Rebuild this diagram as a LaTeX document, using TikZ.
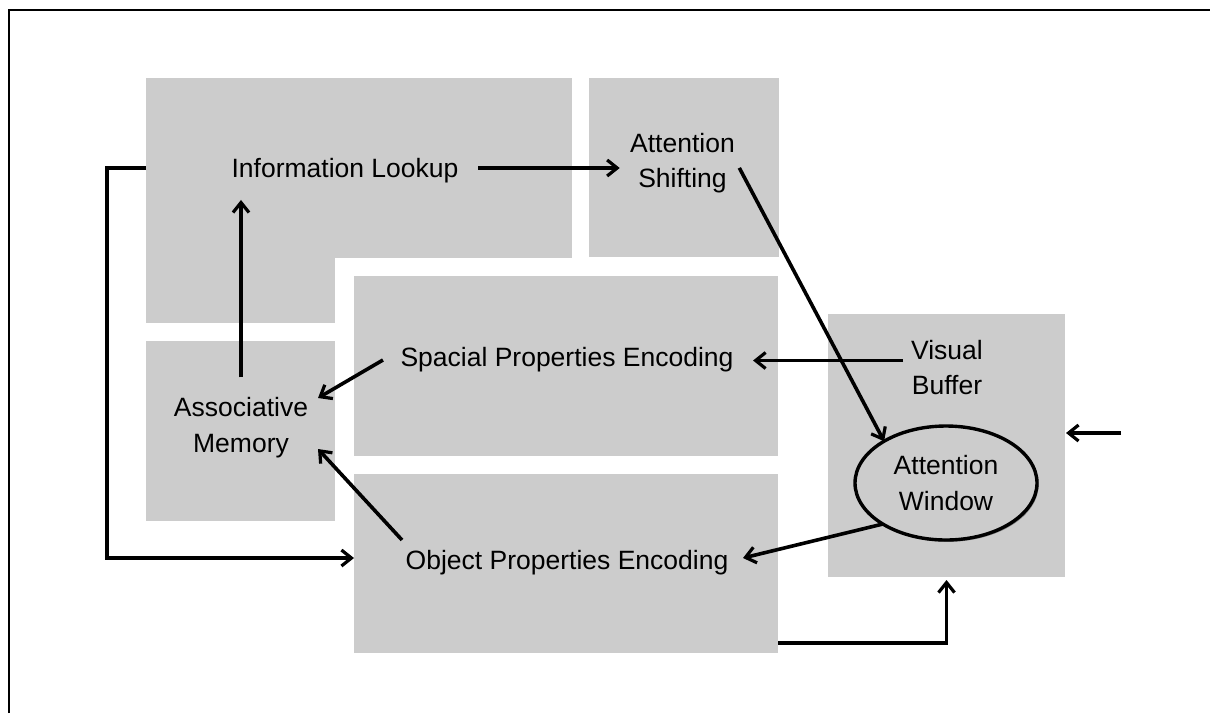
\documentclass[tikz,border=0pt]{standalone}
\usepackage{fontspec}
\setmainfont{Liberation Sans}
\usetikzlibrary{arrows.meta,shapes.geometric,shadows,calc}
\definecolor{panelgray}{HTML}{CCCCCC}
\begin{document}
\begin{tikzpicture}[x=0.5pt,y=-0.5pt,
  panel/.style={fill=panelgray,draw=none,inner sep=0pt,outer sep=0pt},
  lbl/.style={font=\fontsize{13.25}{17.75}\selectfont,align=center,inner sep=0pt,outer sep=0pt},
  link/.style={line width=1.8pt,-{Straight Barb[length=5pt,width=8pt,line width=1.6pt]}},
  frameline/.style={line width=1pt}
]
\useasboundingbox (0,0) rectangle (1210,713);

% slide frame (top and left edges)
\draw[frameline] (8.5,713) -- (8.5,10) -- (1210,10);

% module panels
\node[panel,minimum width=213pt,minimum height=90pt] (ilbox) at (359,168) {};
\fill[panelgray] (146,257) rectangle (335,323);
\node[panel,minimum width=95pt,minimum height=89.5pt] (asbox) at (684,167.5) {};
\node[panel,minimum width=212pt,minimum height=90pt] (spebox) at (566,366) {};
\node[panel,minimum width=212pt,minimum height=89.5pt] (opebox) at (566,563.5) {};
\node[panel,minimum width=94.5pt,minimum height=90pt] (ambox) at (240.5,431) {};
\node[panel,minimum width=118.5pt,minimum height=131.5pt] (vbbox) at (946.5,445.5) {};

% labels
\node[lbl] (il) at (345,170.6) {Information Lookup};
\node[lbl] (as) at (682.5,162.9) {Attention\\Shifting};
\node[lbl] (spe) at (567,359.6) {Spacial Properties Encoding};
\node[lbl] (ope) at (567,562.6) {Object Properties Encoding};
\node[lbl] (vb) at (947,367.6) {Visual\\Buffer};
\node[lbl] (am) at (241,427.4) {Associative\\Memory};
\node[lbl,ellipse,draw,line width=1.7pt,fill=panelgray,
      minimum width=91pt,minimum height=57pt,
      drop shadow={shadow xshift=0.8pt,shadow yshift=-0.9pt,opacity=0.35,fill=black}]
  (aw) at (946,483) {Attention\\Window};

% external input
\coordinate (input) at (1121,433);

% connectors
\draw[link] ([shift={(20,-2.6)}]il.east) -- ([shift={(-10.5,5.1)}]as.west);
\draw[link] ([shift={(0,-20)}]am.north) -- ($(il.south -| am.north)+(0,17)$);
\draw[link] (ilbox.west) -- ++(-39,0) |- ($(opebox.west)+(0,-5.5)$);
\draw[link] ([shift={(4.5,5)}]as.east) -- (aw.146);
\draw[link] ([shift={(-8,-7.1)}]vb.west) -- ([shift={(19.6,0.9)}]spe.east);
\draw[link] ([shift={(-17.6,0.4)}]spe.west) -- ([shift={(10,-29.4)}]am.east);
\draw[link] ([shift={(-3.7,-22.6)}]ope.west) -- ([shift={(10,21.6)}]am.east);
\draw[link] (aw.213) -- ([shift={(14.7,-4.6)}]ope.east);
\draw[link] ($(opebox.south east)+(0,-10)$) -| ($(vbbox.south)+(0,3)$);
\draw[link] (input) -- ($(vbbox.east)+(1,-12.5)$);
\end{tikzpicture}
\end{document}
